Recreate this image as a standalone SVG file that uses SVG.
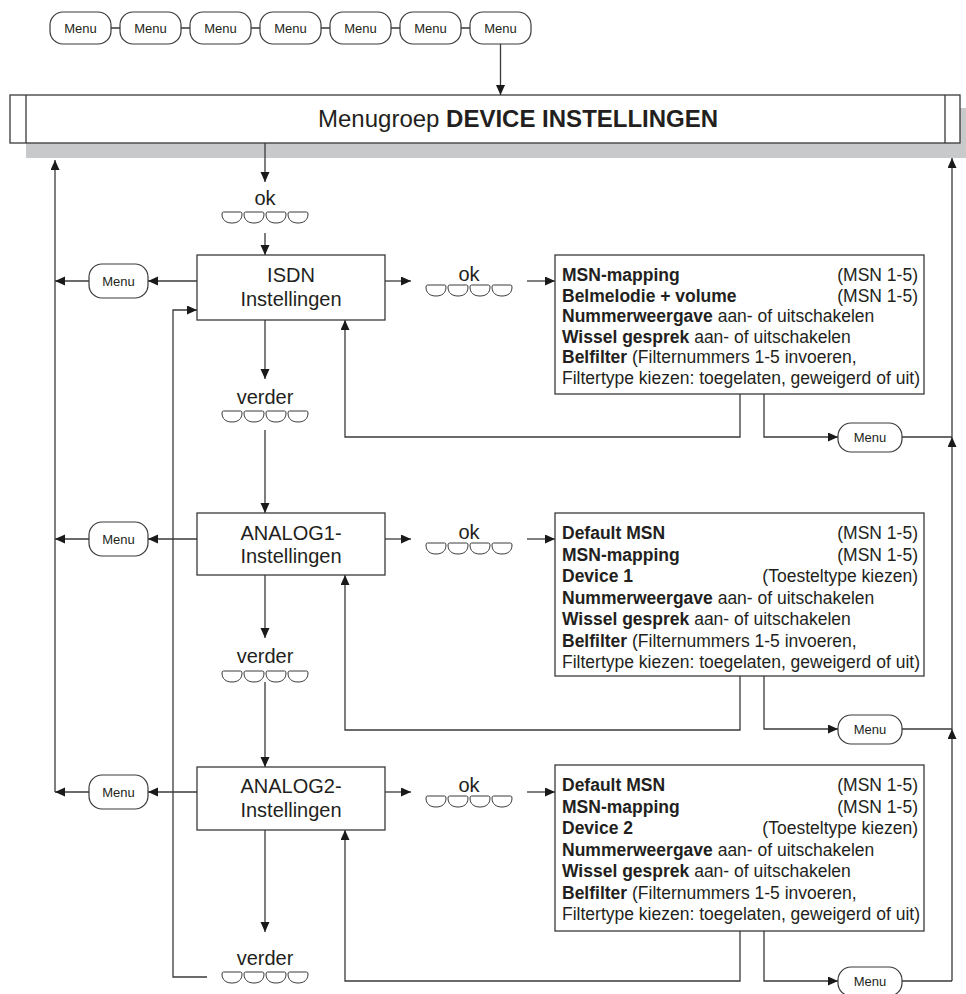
<svg xmlns="http://www.w3.org/2000/svg" xmlns:xlink="http://www.w3.org/1999/xlink" width="966" height="994" viewBox="0 0 966 994">
<style>
.ln{fill:none;stroke:#3a3a3a;stroke-width:1.3}
.arr{fill:none;stroke:#3a3a3a;stroke-width:1.3;marker-end:url(#ah)}
.box{fill:#fff;stroke:#3a3a3a;stroke-width:1.3}
.btn{fill:#fff;stroke:#3a3a3a;stroke-width:1.2}
.key{fill:#fff;stroke:#3a3a3a;stroke-width:1}
.t{font-family:"Liberation Sans",Arial,sans-serif;fill:#231f20}
.bt{font-size:13px;text-anchor:middle}
.nt{font-size:20px;text-anchor:middle}
.lt{font-size:17.5px}
.r{text-anchor:end}
.b{font-weight:bold}
</style>
<defs>
<marker id="ah" markerUnits="userSpaceOnUse" markerWidth="11" markerHeight="10" refX="10" refY="4.5" orient="auto" viewBox="0 0 11 10">
<path d="M0,0 L10,4.5 L0,9 z" fill="#1a1a1a"/>
</marker>
<path id="key" class="key" d="M1.5,0 H18.5 Q20,0 20,2 C20,8 16,11 10,11 C4,11 0,8 0,2 Q0,0 1.5,0 Z"/>
<g id="keypad">
<use xlink:href="#key" x="0" y="0"/>
<use xlink:href="#key" x="22" y="0"/>
<use xlink:href="#key" x="44" y="0"/>
<use xlink:href="#key" x="66" y="0"/>
</g>
</defs>
<rect width="966" height="994" fill="#fff"/>

<g id="top-menus">
<path class="ln" d="M111,28 H120 M181,28 H190 M251,28 H260 M321,28 H330 M391,28 H400 M461,28 H470"/>
<g id="m1"><rect class="btn" x="50" y="12" width="61" height="32" rx="13"/><text class="t bt" x="80.5" y="33">Menu</text></g>
<g id="m2"><rect class="btn" x="120" y="12" width="61" height="32" rx="13"/><text class="t bt" x="150.5" y="33">Menu</text></g>
<g id="m3"><rect class="btn" x="190" y="12" width="61" height="32" rx="13"/><text class="t bt" x="220.5" y="33">Menu</text></g>
<g id="m4"><rect class="btn" x="260" y="12" width="61" height="32" rx="13"/><text class="t bt" x="290.5" y="33">Menu</text></g>
<g id="m5"><rect class="btn" x="330" y="12" width="61" height="32" rx="13"/><text class="t bt" x="360.5" y="33">Menu</text></g>
<g id="m6"><rect class="btn" x="400" y="12" width="61" height="32" rx="13"/><text class="t bt" x="430.5" y="33">Menu</text></g>
<g id="m7"><rect class="btn" x="470" y="12" width="61" height="32" rx="13"/><text class="t bt" x="500.5" y="33">Menu</text></g>
</g>

<g id="header">
<rect x="26" y="108" width="945" height="50" fill="#c8c9cb"/>
<rect class="box" x="10" y="95" width="950" height="48"/>
<path class="ln" d="M26,95 V143 M945,95 V143"/>
<text class="t" x="318" y="127" font-size="24">Menugroep <tspan class="b">DEVICE INSTELLINGEN</tspan></text>
</g>

<g id="connectors">
<path class="arr" d="M500.5,44 V95"/>
<path class="arr" d="M265,143 V182"/>
<path class="arr" d="M265,233 V255"/>
<path class="arr" d="M265,320 V379"/>
<path class="arr" d="M265,430 V513"/>
<path class="arr" d="M265,575 V638"/>
<path class="arr" d="M265,682 V767"/>
<path class="arr" d="M265,830 V932"/>
<path class="arr" d="M197,281 H148"/>
<path class="arr" d="M89,281 H55"/>
<path class="arr" d="M197,539 H148"/>
<path class="arr" d="M89,539 H55"/>
<path class="arr" d="M197,792 H148"/>
<path class="arr" d="M89,792 H55"/>
<path class="arr" d="M55,792 V160"/>
<path class="arr" d="M207,977 H173 V310 H197"/>
<path class="arr" d="M385,281 H411"/>
<path class="arr" d="M527,281 H555"/>
<path class="arr" d="M385,539 H411"/>
<path class="arr" d="M527,539 H555"/>
<path class="arr" d="M385,792 H411"/>
<path class="arr" d="M527,792 H555"/>
<path class="arr" d="M740,394 V437 H345 V320"/>
<path class="arr" d="M740,676 V730 H345 V575"/>
<path class="arr" d="M740,931 V981 H345 V830"/>
<path class="arr" d="M764,394 V437 H838"/>
<path class="arr" d="M764,676 V729 H838"/>
<path class="arr" d="M764,931 V981 H838"/>
<path class="ln" d="M902,437 H952 M902,729 H952 M902,981 H952"/>
<path class="arr" d="M952,981 V729"/>
<path class="arr" d="M952,729 V437"/>
<path class="arr" d="M952,437 V158"/>
</g>

<g id="ok-top"><text class="t nt" x="265" y="205">ok</text><use xlink:href="#keypad" x="222" y="212"/></g>

<g id="isdn"><rect class="box" x="197" y="255" width="188" height="65"/><text class="t nt" x="291" y="282">ISDN</text><text class="t nt" x="291" y="306">Instellingen</text></g>
<g id="menu-l1"><rect class="btn" x="89" y="264" width="59" height="34" rx="13"/><text class="t bt" x="118.5" y="286">Menu</text></g>
<g id="ok-1"><text class="t nt" x="469" y="281">ok</text><use xlink:href="#keypad" x="426" y="285"/></g>
<g id="box-1">
<rect class="box" x="555" y="255" width="369" height="139"/>
<text class="t lt" x="562" y="281"><tspan class="b">MSN-mapping</tspan></text><text class="t lt r" x="918" y="281">(MSN 1-5)</text>
<text class="t lt" x="562" y="301.6"><tspan class="b">Belmelodie + volume</tspan></text><text class="t lt r" x="918" y="301.6">(MSN 1-5)</text>
<text class="t lt" x="562" y="322.2"><tspan class="b">Nummerweergave</tspan> aan- of uitschakelen</text>
<text class="t lt" x="562" y="342.8"><tspan class="b">Wissel gesprek</tspan> aan- of uitschakelen</text>
<text class="t lt" x="562" y="363.4"><tspan class="b">Belfilter</tspan> (Filternummers 1-5 invoeren,</text>
<text class="t lt" x="562" y="384">Filtertype kiezen: toegelaten, geweigerd of uit)</text>
</g>
<g id="menu-r1"><rect class="btn" x="838" y="423" width="64" height="29" rx="13"/><text class="t bt" x="870" y="442">Menu</text></g>
<g id="verder-1"><text class="t nt" x="265" y="404">verder</text><use xlink:href="#keypad" x="222" y="411"/></g>

<g id="analog1"><rect class="box" x="197" y="513" width="188" height="62"/><text class="t nt" x="291" y="540">ANALOG1-</text><text class="t nt" x="291" y="563">Instellingen</text></g>
<g id="menu-l2"><rect class="btn" x="89" y="522" width="59" height="34" rx="13"/><text class="t bt" x="118.5" y="544">Menu</text></g>
<g id="ok-2"><text class="t nt" x="469" y="539">ok</text><use xlink:href="#keypad" x="426" y="543"/></g>
<g id="box-2">
<rect class="box" x="555" y="513" width="369" height="163"/>
<text class="t lt" x="562" y="539"><tspan class="b">Default MSN</tspan></text><text class="t lt r" x="918" y="539">(MSN 1-5)</text>
<text class="t lt" x="562" y="560.5"><tspan class="b">MSN-mapping</tspan></text><text class="t lt r" x="918" y="560.5">(MSN 1-5)</text>
<text class="t lt" x="562" y="582"><tspan class="b">Device 1</tspan></text><text class="t lt r" x="918" y="582">(Toesteltype kiezen)</text>
<text class="t lt" x="562" y="603.5"><tspan class="b">Nummerweergave</tspan> aan- of uitschakelen</text>
<text class="t lt" x="562" y="625"><tspan class="b">Wissel gesprek</tspan> aan- of uitschakelen</text>
<text class="t lt" x="562" y="646.5"><tspan class="b">Belfilter</tspan> (Filternummers 1-5 invoeren,</text>
<text class="t lt" x="562" y="668">Filtertype kiezen: toegelaten, geweigerd of uit)</text>
</g>
<g id="menu-r2"><rect class="btn" x="838" y="715" width="64" height="29" rx="13"/><text class="t bt" x="870" y="734">Menu</text></g>
<g id="verder-2"><text class="t nt" x="265" y="663">verder</text><use xlink:href="#keypad" x="222" y="671"/></g>

<g id="analog2"><rect class="box" x="197" y="767" width="188" height="63"/><text class="t nt" x="291" y="793">ANALOG2-</text><text class="t nt" x="291" y="817">Instellingen</text></g>
<g id="menu-l3"><rect class="btn" x="89" y="775" width="59" height="34" rx="13"/><text class="t bt" x="118.5" y="797">Menu</text></g>
<g id="ok-3"><text class="t nt" x="469" y="792">ok</text><use xlink:href="#keypad" x="426" y="796"/></g>
<g id="box-3">
<rect class="box" x="555" y="765" width="369" height="166"/>
<text class="t lt" x="562" y="791"><tspan class="b">Default MSN</tspan></text><text class="t lt r" x="918" y="791">(MSN 1-5)</text>
<text class="t lt" x="562" y="812.5"><tspan class="b">MSN-mapping</tspan></text><text class="t lt r" x="918" y="812.5">(MSN 1-5)</text>
<text class="t lt" x="562" y="834"><tspan class="b">Device 2</tspan></text><text class="t lt r" x="918" y="834">(Toesteltype kiezen)</text>
<text class="t lt" x="562" y="855.5"><tspan class="b">Nummerweergave</tspan> aan- of uitschakelen</text>
<text class="t lt" x="562" y="877"><tspan class="b">Wissel gesprek</tspan> aan- of uitschakelen</text>
<text class="t lt" x="562" y="898.5"><tspan class="b">Belfilter</tspan> (Filternummers 1-5 invoeren,</text>
<text class="t lt" x="562" y="920">Filtertype kiezen: toegelaten, geweigerd of uit)</text>
</g>
<g id="menu-r3"><rect class="btn" x="838" y="967" width="64" height="29" rx="13"/><text class="t bt" x="870" y="986">Menu</text></g>
<g id="verder-3"><text class="t nt" x="265" y="965">verder</text><use xlink:href="#keypad" x="222" y="972"/></g>
</svg>
